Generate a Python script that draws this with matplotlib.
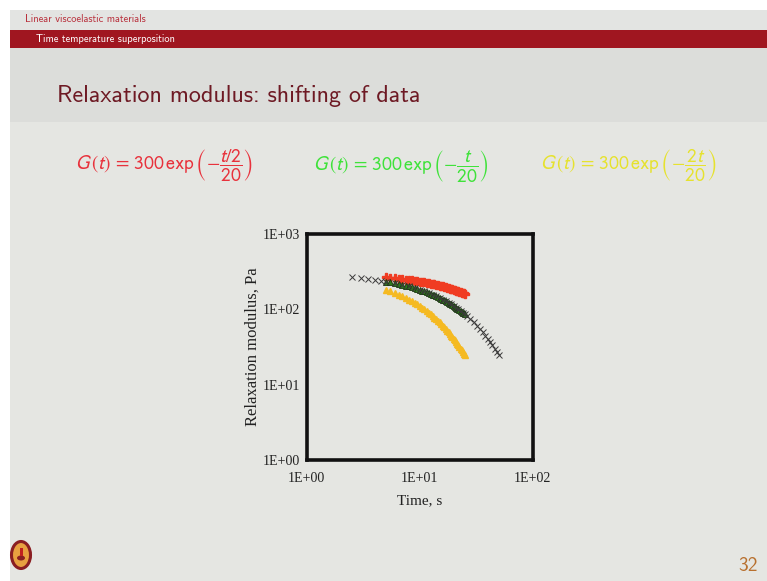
import matplotlib
matplotlib.use("Agg")
import matplotlib.pyplot as plt
from matplotlib.patches import Rectangle, Ellipse

# ---------------- data ----------------
t_shift = [5.0, 5.5, 6.0, 6.5, 7.0, 7.5, 8.0, 8.5, 9.0, 9.5, 10.0, 10.5, 11.0, 11.5,
           12.0, 12.5, 13.0, 13.5, 14.0, 14.5, 15.0, 15.5, 16.0, 16.5, 17.0, 17.5,
           18.0, 18.5, 19.0, 19.5, 20.0, 20.5, 21.0, 21.5, 22.0, 22.5, 23.0, 23.5,
           24.0, 24.5, 25.0]
g_red = [264.7, 261.5, 258.2, 255.0, 251.8, 248.7, 245.6, 242.6, 239.6, 236.6, 233.6,
         230.7, 227.9, 225.0, 222.2, 219.5, 216.8, 214.1, 211.4, 208.8, 206.2, 203.6,
         201.1, 198.6, 196.1, 193.7, 191.3, 188.9, 186.6, 184.2, 182.0, 179.7, 177.5,
         175.3, 173.1, 170.9, 168.8, 166.7, 164.6, 162.6, 160.6]
g_green = [233.6, 227.9, 222.2, 216.8, 211.4, 206.2, 201.1, 196.1, 191.3, 186.6, 182.0,
           177.5, 173.1, 168.8, 164.6, 160.6, 156.6, 152.7, 149.0, 145.3, 141.7, 138.2,
           134.8, 131.5, 128.2, 125.1, 122.0, 119.0, 116.0, 113.2, 110.4, 107.6, 105.0,
           102.4, 99.9, 97.4, 95.0, 92.6, 90.4, 88.1, 86.0]
g_yellow = [182.0, 173.1, 164.6, 156.6, 149.0, 141.7, 134.8, 128.2, 122.0, 116.0, 110.4,
            105.0, 99.9, 95.0, 90.4, 86.0, 81.8, 77.8, 74.0, 70.4, 66.9, 63.7, 60.6,
            57.6, 54.8, 52.1, 49.6, 47.2, 44.9, 42.7, 40.6, 38.6, 36.7, 34.9, 33.2,
            31.6, 30.1, 28.6, 27.2, 25.9, 24.6]
t_master = [2.5, 3.0, 3.5, 4.0, 4.5, 5, 6, 7, 8, 9, 10, 11, 12, 13, 14, 15, 16, 17, 18,
            19, 20, 21, 22, 23, 24, 25, 26, 28, 30, 32, 34, 36, 38, 40, 42, 44, 46, 48, 50]
g_master = [264.7, 258.2, 251.8, 245.6, 239.6, 233.6, 222.2, 211.4, 201.1, 191.3, 182.0,
            173.1, 164.6, 156.6, 149.0, 141.7, 134.8, 128.2, 122.0, 116.0, 110.4, 105.0,
            99.9, 95.0, 90.4, 86.0, 81.8, 74.0, 66.9, 60.6, 54.8, 49.6, 44.9, 40.6, 36.7,
            33.2, 30.1, 27.2, 24.6]
x_ticks = [1, 10, 100]
x_ticklabels = ["1E+00", "1E+01", "1E+02"]
y_ticks = [1, 10, 100, 1000]
y_ticklabels = ["1E+00", "1E+01", "1E+02", "1E+03"]

W, H = 767, 581
BG = "#E5E6E2"

plt.rcParams["mathtext.fontset"] = "stixsans"

fig = plt.figure(figsize=(W / 100, H / 100), dpi=100)
fig.patch.set_facecolor("white")


def fx(x):
    return x / W


def fy(y):
    return 1 - y / H


def rect(x0, y0, x1, y1, color, z=-10):
    fig.patches.append(Rectangle((fx(x0), fy(y1)), fx(x1) - fx(x0), fy(y0) - fy(y1),
                                 transform=fig.transFigure, facecolor=color,
                                 edgecolor="none", zorder=z))


# slide background
rect(10, 10, W, H, BG)
rect(10, 10, W, 30, "#E3E4E2")
rect(10, 30, W, 48, "#A01620")
rect(10, 48, W, 122, "#DCDDDA")

fig.text(fx(25), fy(19), "Linear viscoelastic materials", family="cmss10",
         fontsize=7.5, color="#B8303C", ha="left", va="center")
fig.text(fx(36), fy(39), "Time temperature superposition", family="cmss10",
         fontsize=7.5, color="white", ha="left", va="center")
fig.text(fx(57), fy(96), "Relaxation modulus: shifting of data", family="cmss10",
         fontsize=17.3, color="#6E1A24", ha="left", va="center")

fig.text(fx(75), fy(166), r"$G\,(t)\, = \,300\,\mathrm{exp}\,\left(-\dfrac{t/2}{20}\right)$",
         fontsize=14, color="#E8323C", ha="left", va="center")
fig.text(fx(313), fy(166), r"$G\,(t)\, = \,300\,\mathrm{exp}\,\left(-\dfrac{t}{20}\right)$",
         fontsize=14, color="#3FE23A", ha="left", va="center")
fig.text(fx(540), fy(166), r"$G\,(t)\, = \,300\,\mathrm{exp}\,\left(-\dfrac{2t}{20}\right)$",
         fontsize=14, color="#E6E22E", ha="left", va="center")

# logo
fig.patches.append(Ellipse((fx(21), fy(555)), fx(19), 27 / H, transform=fig.transFigure,
                           facecolor="#E8A040", edgecolor="#8A1E22", linewidth=2.2, zorder=3))
fig.patches.append(Ellipse((fx(21), fy(558)), fx(8), 5 / H, transform=fig.transFigure,
                           facecolor="#8A1E22", edgecolor="none", zorder=4))
fig.patches.append(Rectangle((fx(20), fy(556)), fx(2.5), 8 / H, transform=fig.transFigure,
                             facecolor="#C02020", edgecolor="none", zorder=4))
fig.text(fx(758), fy(566), "32", family="cmss10", fontsize=14, color="#B8702E",
         ha="right", va="center")

# chart
ax = fig.add_axes([fx(306.7), fy(460), (532.7 - 306.7) / W, 226 / H])
ax.set_zorder(5)
ax.set_facecolor(BG)
ax.set_xscale("log")
ax.set_yscale("log")
ax.set_xlim(1, 100)
ax.set_ylim(1, 1000)

ax.plot(t_shift, g_yellow, linestyle="none", marker="^", markersize=5,
        color="#F5BA22", markeredgecolor="#F5BA22", zorder=3)
ax.plot(t_shift, g_red, linestyle="none", marker="P", markersize=6,
        color="#F03C22", markeredgecolor="#F03C22", zorder=3)
ax.plot(t_shift, g_green, linestyle="none", marker="^", markersize=5,
        color="#2E7A1C", markeredgecolor="#1A3A10", markeredgewidth=0.6, zorder=4)
ax.plot(t_master, g_master, linestyle="none", marker="x", markersize=4.5,
        color="#3A3A3A", markeredgewidth=0.7, zorder=5)

ax.set_xticks(x_ticks)
ax.set_xticklabels(x_ticklabels)
ax.set_yticks(y_ticks)
ax.set_yticklabels(y_ticklabels)
ax.minorticks_off()
ax.tick_params(length=0, labelsize=10, colors="#222222")
ax.tick_params(axis="x", pad=9)
ax.tick_params(axis="y", pad=5)
for lab in ax.get_xticklabels() + ax.get_yticklabels():
    lab.set_family("Liberation Serif")
for sp in ax.spines.values():
    sp.set_linewidth(2.6)
    sp.set_color("#111111")

ax.set_xlabel("Time, s", family="Liberation Serif", fontsize=11, color="#222222",
              labelpad=6)
ax.set_ylabel("Relaxation modulus, Pa", family="Liberation Serif", fontsize=12,
              color="#222222")
ax.yaxis.set_label_coords(-0.205, 0.5)

fig.savefig("out.png", dpi=100, facecolor=fig.get_facecolor())
